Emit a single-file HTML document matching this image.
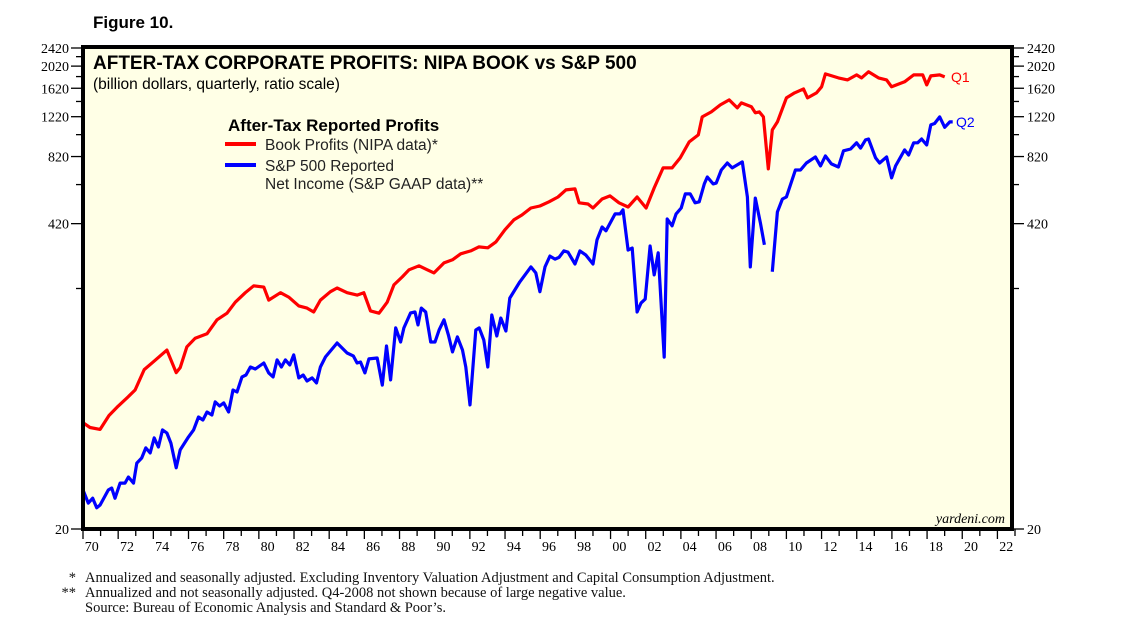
<!DOCTYPE html>
<html><head><meta charset="utf-8"><style>
body{margin:0;background:#fff;}
svg{display:block;font-family:"Liberation Sans",sans-serif;}
.ser{font-family:"Liberation Serif",serif;}
</style></head><body>
<svg id="chart" width="1138" height="631" viewBox="0 0 1138 631">
<text x="93" y="28" font-size="17" font-weight="bold">Figure 10.</text>
<rect x="83" y="47" width="929" height="482" fill="#FFFFE6"/>
<g id="axes"></g>
<g id="series"></g>
<rect x="83" y="47" width="929" height="482" fill="none" stroke="#000" stroke-width="4"/>
<text x="93" y="69" font-size="19" font-weight="bold">AFTER-TAX CORPORATE PROFITS: NIPA BOOK vs S&amp;P 500</text>
<text x="93" y="89" font-size="15.5">(billion dollars, quarterly, ratio scale)</text>
<text x="228" y="131" font-size="17" font-weight="bold">After-Tax Reported Profits</text>
<line x1="225" y1="144" x2="256" y2="144" stroke="#f00" stroke-width="4"/>
<text x="265" y="150" font-size="15.5" fill="#222">Book Profits (NIPA data)*</text>
<line x1="225" y1="165" x2="256" y2="165" stroke="#00f" stroke-width="4"/>
<text x="265" y="171" font-size="15.5" fill="#222">S&amp;P 500 Reported</text>
<text x="265" y="189" font-size="15.5" fill="#222">Net Income (S&amp;P GAAP data)**</text>
<text x="951" y="82" font-size="14" fill="#f00">Q1</text>
<text x="956" y="127" font-size="14" fill="#00f">Q2</text>
<text x="1005" y="523" font-size="14" font-style="italic" text-anchor="end" class="ser">yardeni.com</text>
<g class="ser" font-size="14.5" fill="#111">
<text x="76" y="582" text-anchor="end">*</text>
<text x="85" y="582">Annualized and seasonally adjusted. Excluding Inventory Valuation Adjustment and Capital Consumption Adjustment.</text>
<text x="76" y="597" text-anchor="end">**</text>
<text x="85" y="597">Annualized and not seasonally adjusted. Q4-2008 not shown because of large negative value.</text>
<text x="85" y="612">Source: Bureau of Economic Analysis and Standard &amp; Poor’s.</text>
</g>
</svg>
<script>
const bookYears=[1970.02,1970.4,1970.97,1971.48,1971.99,1972.51,1972.96,1973.48,1974.01,1974.77,1975.3,1975.53,1975.91,1976.38,1977.05,1977.62,1978.19,1978.66,1979.23,1979.71,1980.28,1980.56,1981.23,1981.7,1982.27,1982.74,1983.12,1983.5,1984.07,1984.45,1985.02,1985.59,1985.97,1986.35,1986.83,1987.3,1987.68,1988.16,1988.54,1989.11,1989.58,1989.96,1990.53,1991.01,1991.48,1992.05,1992.51,1993.02,1993.48,1993.99,1994.5,1994.96,1995.47,1995.98,1996.5,1997.01,1997.46,1997.98,1998.21,1998.72,1999.0,1999.52,1999.97,2000.48,2001.0,2001.51,2002.02,2002.48,2002.99,2003.5,2003.96,2004.47,2004.99,2005.21,2005.73,2006.24,2006.75,2007.21,2007.44,2008.01,2008.23,2008.46,2008.69,2008.97,2009.2,2009.49,2010.0,2010.46,2010.97,2011.2,2011.71,2012.0,2012.22,2012.96,2013.48,2013.99,2014.27,2014.67,2015.24,2015.7,2015.98,2016.72,2017.24,2017.75,2017.98,2018.21,2018.72,2019.0];
const bookValues=[57.6,55,54,62,68,74,80,98,106,119,95,100,123,134,140,161,172,192,211,226,223,196,211,202,185,181,174,196,213,221,211,206,211,176,172,192,228,247,265,276,265,257,284,293,311,320,333,330,350,395,436,458,491,501,522,548,588,594,517,511,491,537,554,517,496,548,491,600,732,732,809,949,1017,1218,1280,1372,1443,1332,1400,1346,1268,1280,1218,725,1070,1158,1472,1547,1610,1472,1547,1643,1870,1796,1760,1851,1796,1908,1796,1760,1643,1727,1851,1851,1675,1833,1851,1815];
const spYears=[1970.0,1970.3,1970.55,1970.78,1970.97,1971.44,1971.63,1971.82,1972.11,1972.39,1972.58,1972.87,1973.06,1973.34,1973.57,1973.82,1974.05,1974.29,1974.52,1974.77,1975.0,1975.3,1975.53,1976.0,1976.29,1976.57,1976.82,1977.05,1977.33,1977.52,1977.77,1978.0,1978.28,1978.53,1978.76,1979.04,1979.27,1979.52,1979.8,1980.28,1980.56,1980.81,1981.04,1981.28,1981.51,1981.76,1981.98,1982.27,1982.52,1982.74,1983.03,1983.28,1983.5,1983.79,1984.45,1985.02,1985.37,1985.59,1985.78,1986.03,1986.26,1986.73,1987.02,1987.26,1987.49,1987.78,1988.06,1988.25,1988.63,1988.88,1989.05,1989.24,1989.49,1989.77,1990.02,1990.25,1990.53,1990.78,1991.01,1991.29,1991.58,1991.77,1992.01,1992.34,1992.53,1992.79,1993.02,1993.25,1993.53,1993.76,1994.05,1994.27,1994.84,1995.47,1995.75,1995.98,1996.27,1996.55,1996.84,1997.07,1997.35,1997.58,1997.98,1998.26,1998.6,1999.0,1999.23,1999.52,1999.74,2000.26,2000.54,2000.71,2001.0,2001.23,2001.51,2001.74,2001.97,2002.25,2002.48,2002.71,2003.05,2003.22,2003.5,2003.73,2004.02,2004.25,2004.53,2004.81,2005.04,2005.33,2005.5,2005.84,2006.01,2006.3,2006.64,2006.92,2007.49,2007.78,2007.95,2008.23,2008.52,2008.75,2008.87,2009.2,2009.49,2009.77,2010.0,2010.51,2010.8,2011.14,2011.65,2011.94,2012.22,2012.56,2012.96,2013.25,2013.65,2013.99,2014.22,2014.5,2014.67,2015.07,2015.3,2015.7,2015.98,2016.21,2016.72,2016.95,2017.24,2017.46,2017.69,2017.98,2018.21,2018.43,2018.72,2019.0,2019.29,2019.46];
const spValues=[29.5,25.9,27.2,24.7,25.4,29.5,30.1,27.2,31.6,31.6,33.6,31.6,38.6,40.6,44.9,42.7,49.6,45.3,53.7,52.1,47.1,36.8,44,50.1,53.7,61.1,59.3,64.2,62.3,71,68.2,70.3,64.2,80,78.4,91.1,92.9,100.6,98.6,104.7,94.8,91.1,108,100.6,108,102.7,113.5,90.2,92.9,87.5,90.2,85.8,100.6,111.2,127.8,115.7,112.3,104.7,105.7,94.8,109,110,84,124,88.4,148.5,129.1,148.5,172.5,174,153,181,174,129,129,145.5,161,138.4,116.9,135.8,119,100.6,68.9,145.5,148.5,131.7,100.6,169,137,164,144,200,235,273,257,213,273,304,295,300,320,316,281,320,307,281,357,406,391,463,463,482,323,329,174,190.5,198,336,252,314,111,440,411,463,491,565,565,517,522,624,669,624,629,717,769,732,777,548,273,542,423,340,null,260,472,537,548,717,717,769,817,747,825,762,739,868,884,940,892,968,977,809,769,817,663,747,876,833,940,940,977,921,1124,1140,1218,1098,1158,1158];
const yTickLabels=[2420,2020,1620,1220,820,420,20];
const yMinorTicks=[2220,1820,1420,1020,620,220];
const xYears=[1970,1972,1974,1976,1978,1980,1982,1984,1986,1988,1990,1992,1994,1996,1998,2000,2002,2004,2006,2008,2010,2012,2014,2016,2018,2020,2022];

const NS='http://www.w3.org/2000/svg';
const L=83,R=1012,T=47,B=529,YMIN=20,YMAX=2420,X0=1970,X1=2023;
function xScale(yr){return L+(yr-X0)*(R+3-L)/(X1-X0);}
function yScale(v){return B-(Math.log(v/YMIN)/Math.log(YMAX/YMIN))*(B-T-1);}
function mk(tag,attrs,parent){const e=document.createElementNS(NS,tag);for(const k in attrs)e.setAttribute(k,attrs[k]);parent.appendChild(e);return e;}
const axes=document.getElementById('axes'),series=document.getElementById('series');

yTickLabels.forEach(v=>{
  const y=yScale(v);
  const t1=mk('line',{x1:L-12,x2:L,y1:y,y2:y,stroke:'#000','stroke-width':1.3},axes);
  
  
  const t2=mk('line',{x1:R,x2:R+12,y1:y,y2:y,stroke:'#000','stroke-width':1.3},axes);
  
  
  const a=mk('text',{x:L-14,y:y+5,'text-anchor':'end','font-size':14,class:'ser'},axes);
  a.textContent=v;
  
  
  const b=mk('text',{x:R+15,y:y+5,'font-size':14,class:'ser'},axes);
  b.textContent=v;
  
  
});
yMinorTicks.forEach(v=>{
  const y=yScale(v);
  const a=mk('line',{x1:L-7,x2:L,y1:y,y2:y,stroke:'#000','stroke-width':1.3},axes);
  
  
  const b=mk('line',{x1:R,x2:R+7,y1:y,y2:y,stroke:'#000','stroke-width':1.3},axes);
  
  
});
for(let yr=X0;yr<=X1;yr++){
  const x=xScale(yr);
  const t=mk('line',{x1:x,x2:x,y1:B,y2:B+(yr%2===0?10:7),stroke:'#000','stroke-width':1.3},axes);
  
  
}
xYears.forEach(yr=>{
  const t=mk('text',{x:xScale(yr+0.5),y:B+22,'text-anchor':'middle','font-size':14,class:'ser'},axes);
  t.textContent=String(yr%100).padStart(2,'0');
  
  
});
function pathFor(years,vals){
  let d='',pen=false;
  for(let i=0;i<years.length;i++){
    if(vals[i]==null){pen=false;continue;}
    d+=(pen?'L':'M')+xScale(years[i]).toFixed(1)+','+yScale(vals[i]).toFixed(1);
    pen=true;
  }
  return d;
}
const pb=mk('path',{d:pathFor(bookYears,bookValues),fill:'none',stroke:'#f00','stroke-width':3.2,'stroke-linejoin':'round'},series);


const ps=mk('path',{d:pathFor(spYears,spValues),fill:'none',stroke:'#00f','stroke-width':3.2,'stroke-linejoin':'round'},series);


</script>
</body></html>
